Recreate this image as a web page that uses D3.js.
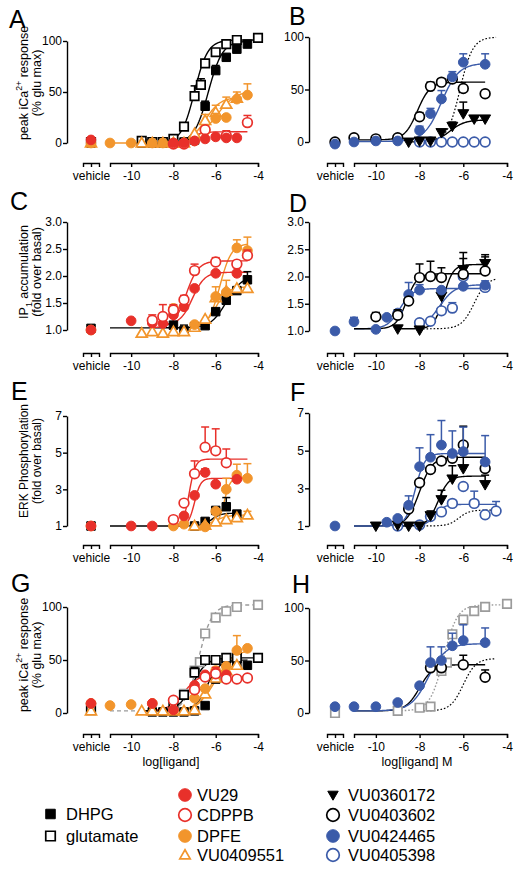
<!DOCTYPE html>
<html><head><meta charset="utf-8">
<script src="https://cdn.jsdelivr.net/npm/d3@7"></script>
<style>
html,body{margin:0;padding:0;background:#fff;}
svg{display:block;font-family:Arial,"Liberation Sans",Helvetica,sans-serif;}
</style></head>
<body>
<svg id="chart" width="521" height="870"></svg>
<script>
const V = "veh";
// ---------- series names ----------
const seriesLeftLegend1 = ["DHPG", "glutamate"];
const seriesLegend2 = ["VU29", "CDPPB", "DPFE", "VU0409551"];
const seriesLegend3 = ["VU0360172", "VU0403602", "VU0424465", "VU0405398"];
const xTickValues = [-10, -8, -6, -4];

// ---------- data: [log dose or vehicle, response, upper SEM] ----------
// Panel A  (peak iCa2+ response, % glu max)
const A_DHPG = [[V,0],[-9.5,0],[-9,0],[-8.5,0],[-8,0],[-7.5,1],[-7,3],[-6.5,36,5],[-6,71,5],[-5.5,84],[-5,92],[-4.5,97]];
const A_glu = [[V,1],[-9.5,2],[-9,1],[-8.5,1],[-8,4],[-7.5,16],[-7,46,10],[-6.7,57,6],[-6.5,78,3],[-6,89],[-5.5,97],[-5,101],[-4,103]];
const A_DPFE = [[V,0],[-11,0],[-10,0],[-9,0],[-8.5,0],[-8,0],[-7.5,0],[-7,2],[-6.5,12],[-6,24,5],[-5.5,25],[-5,43,7],[-4.5,47,11]];
const A_VU0409551 = [[V,0],[-9.5,0],[-9,0],[-8.5,0],[-8,0],[-7.5,0],[-7,9],[-6.5,22,6],[-6,30,7],[-5.5,38,7],[-5,44]];
const A_VU29 = [[V,3],[-8,0],[-7.5,0],[-7,2],[-6.5,4],[-6,6],[-5.5,5],[-5,5]];
const A_CDPPB = [[-8,-1],[-7.5,-1],[-6.5,13],[-5.5,7,5],[-4.5,20,7]];
// Panel B
const B_VU0403602 = [[V,0],[-11,4],[-10,3],[-9,4],[-8,24,4],[-7.5,53,4],[-7,57,3],[-6.5,60],[-6,51],[-5,46,3]];
const B_VU0424465 = [[V,-2],[-11,0],[-10,1],[-9,1],[-8,11,4],[-7.5,27,5],[-7,41,8],[-6.5,62,5],[-6,76,8],[-5,74,10]];
const B_VU0360172 = [[-8.5,0],[-8,1],[-7.5,1],[-7,9],[-6.5,15,4],[-6,27,11],[-5.5,22,3],[-5,22,3]];
const B_VU0405398 = [[-8,0],[-7.5,0],[-7,0],[-6.5,0],[-6,0],[-5.5,0],[-5,0]];
// Panel C  (IP1 accumulation, fold over basal)
const C_DHPG = [[V,1.03],[-8,1.09],[-7.5,0.99,0.1],[-7,1.06],[-6.5,1.08],[-6,1.34],[-5.5,1.55],[-5,1.73],[-4.5,1.93,0.15]];
const C_DPFE = [[V,1.0],[-8,1.4],[-7,1.1],[-6,1.62,0.18],[-5.5,1.7],[-5,2.52,0.15],[-4.5,2.47,0.25]];
const C_VU0409551 = [[-9.5,0.94],[-9,0.97],[-8.5,0.94],[-8,0.97],[-7.5,0.97],[-7,1.05],[-6.5,1.2],[-6,1.6],[-5.5,1.72,0.2],[-5,1.77],[-4.5,1.77]];
const C_VU29 = [[V,1.0],[-10,1.17],[-9,1.13,0.1],[-8.5,1.12],[-8,1.28],[-7.5,1.43],[-7,1.77],[-6,2.05],[-5,2.05]];
const C_CDPPB = [[-9,1.18,0.1],[-8.5,1.25,0.22],[-8,1.37,0.1],[-7.5,1.56,0.08],[-7,2.1,0.12],[-6,2.26,0.08],[-5,2.22],[-4.5,2.38,0.1]];
// Panel D
const D_VU0424465 = [[V,1.0],[-11,1.17,0.08],[-10,1.03],[-9.5,1.25],[-9,1.33,0.05],[-8.5,1.67,0.22],[-8,1.75,0.1],[-7,1.75],[-6,1.82],[-5,1.84]];
const D_VU0403602 = [[-10,1.26,0.08],[-9,1.29,0.1],[-8.5,1.55],[-8,1.98,0.25],[-7.5,2.0,0.28],[-7,1.98,0.18],[-6,2.04,0.4],[-5,2.1,0.3]];
const D_VU0360172 = [[-9,1.04],[-8,1.02],[-7,1.64],[-6,2.13,0.2],[-5,2.24,0.12]];
const D_VU0405398 = [[-8,1.15],[-7.5,1.18],[-7,1.37],[-6.5,1.42,0.1],[-6,2.0,0.1],[-5,1.8,0.12]];
// Panel E  (ERK phosphorylation, fold over basal)
const E_DHPG = [[V,1],[-7,1.0],[-6.5,1.25],[-6,1.85],[-5.5,2.05,0.5],[-5,1.65]];
const E_DPFE = [[V,1],[-8,1],[-7.5,1.1],[-6.5,0.95],[-6,1.8],[-5.5,3.0,0.6],[-5,3.77,0.6],[-4.5,3.6,0.8]];
const E_VU0409551 = [[-7,1],[-6.5,1.05],[-6,1.22],[-5.5,1.35],[-5,1.45],[-4.5,1.6,0.2]];
const E_VU29 = [[V,1],[-10,1],[-9,1],[-7.5,1.55],[-7,2.67],[-6.5,3.92,0.2],[-6,3.28],[-5,3.55]];
const E_CDPPB = [[-8,1.35],[-7.5,2.25],[-7,3.85,0.7],[-6.5,5.3,1.1],[-6,5.1,1.2],[-5.5,4.45,0.75]];
// Panel F
const F_VU0424465 = [[V,1],[-9.5,1.2],[-9,1.4],[-8.5,2.1,0.5],[-8,4.15,1.0],[-7.5,4.65,1.2],[-7,5.3,1.3],[-6.5,4.85,1.2],[-6,4.95,1.3],[-5,4.4,1.4]];
const F_VU0403602 = [[-8.5,1.9],[-8,3.3],[-7.5,4.0],[-7,4.45],[-6.5,4.6],[-6,5.3,1.0],[-5,4.05]];
const F_VU0360172 = [[-10,1],[-9,1.05],[-8.5,1],[-8,1],[-7.5,1.55,0.25],[-7,2.4,0.5],[-6.5,3.5,0.7],[-6,4.05,0.8],[-5,3.2,0.5]];
const F_VU0405398 = [[-9,1],[-8,1.05],[-7.5,1.5],[-7,1.75],[-6.5,2.2],[-6,3.1],[-5.5,2.2,0.65],[-5,1.6],[-4.5,1.8,0.5]];
// Panel G  (peak iCa2+ response, % glu max)
const G_gluGray = [[V,2.5],[-7.5,18],[-7,40],[-6.75,48],[-6.5,75],[-6,90],[-5.5,96],[-5,100],[-4,102]];
const G_glu = [[V,5],[-8,9],[-7.5,17],[-7,38,5],[-6.5,50,3],[-6,50],[-5.5,52,3],[-5,52],[-4,52]];
const G_DHPG = [[V,3],[-9,1],[-8.5,1],[-8,1],[-7.5,1],[-7,2],[-6.5,7],[-6,32],[-5.5,48],[-5,46,5],[-4.5,45]];
const G_DPFE = [[V,9],[-11,7],[-10,8],[-9,9],[-8,3],[-7,14],[-6.5,23],[-6,40],[-5.5,44],[-5,59,14],[-4.5,61]];
const G_VU0409551 = [[V,2],[-9.5,2],[-9,2],[-8.5,2],[-8,2],[-7.5,2],[-7,3],[-6.5,18],[-6,33],[-5.5,40],[-5,45]];
const G_VU29 = [[V,9],[-9,9],[-8,3],[-7,26],[-6.5,36],[-6,38],[-5.5,36]];
const G_CDPPB = [[-8,12],[-7,22],[-6.5,34],[-6,37,6],[-5.5,32,5],[-5,32],[-4.5,33]];
// Panel H
const H_gluGray = [[V,0],[-9,2],[-8,5],[-7.5,6],[-7,40],[-6.75,48],[-6.5,75],[-6,89],[-5.5,97],[-5,101],[-4,104]];
const H_VU0424465 = [[V,6],[-11,6],[-10,6],[-9,10],[-8,26],[-7.5,48,15],[-7,50,13],[-6.5,64,12],[-6,69,15],[-5,67,14]];
const H_VU0403602 = [[-7.5,43],[-7,43],[-6,46,9],[-5,34,7]];

// ---------- fitted curve parameters: [series, bottom, top, logEC50, hill, xFrom, xTo] ----------
const A_fits = [["glu",0,101,-7.0,1.4,-9.5,-4],["DHPG",0,100,-6.35,1.3,-9.5,-4.5],["DPFE",0,52,-6.0,0.9,-11,-4.5],["VU0409551",0,45,-6.5,1.2,-9.5,-5],["VU29",0,11,-7.2,1.5,-8,-4.5]];
const B_fits = [["ref",0,100,-6.15,1.5,-7.5,-4.5],["VU0403602",2,57,-8.1,1.5,-11,-5],["VU0424465",0.5,75,-7.0,1.1,-11,-5],["VU0360172",0,21,-6.6,1.3,-8.5,-5],["VU0405398",0,0.5,-7,1,-8,-5]];
const C_fits = [["DHPG",1.04,2.0,-5.5,1.2,-11,-4.5],["VU0409551",1.04,1.8,-6.0,1.5,-7,-4.5],["DPFE",1.04,2.6,-5.8,1.6,-6.8,-4.5],["VU29",1.1,2.07,-7.1,1.5,-8.5,-4.5],["CDPPB",1.04,2.28,-7.4,1.5,-9,-4.5]];
const D_fits = [["ref",1.04,1.98,-5.5,1.5,-8,-4.5],["VU0424465",1.04,1.78,-8.9,1.5,-11,-5],["VU0403602",1.04,2.05,-8.6,1.8,-11,-5],["VU0360172",1.04,2.22,-6.9,2,-9,-5],["VU0405398",1.04,1.85,-7.1,1.2,-8,-5]];
const E_fits = [["DHPG",1,1.7,-6.2,2,-11,-5],["VU0409551",1,1.6,-6.0,1.5,-7,-4.5],["DPFE",1,3.65,-5.6,3,-6.5,-4.5],["VU29",1,3.6,-7.0,3,-8,-4.5],["CDPPB",1,4.65,-7.25,3,-8,-4.5]];
const F_fits = [["ref",1,1.85,-6.2,1.8,-8,-4.5],["VU0405398",1,2.15,-7.3,2,-9,-4.5],["VU0360172",1,3.65,-7.15,1.8,-9,-5],["VU0403602",1,4.65,-8.0,1.5,-11,-5],["VU0424465",1,4.85,-8.2,2,-11,-5]];
const G_fits = [["gluGray",2,102,-6.8,1.4,-11,-4],["glu",2,52,-7.1,1.3,-9.5,-4],["DHPG",2,50,-6.4,1.5,-9.5,-4.5],["DPFE",2,60,-6.0,1.0,-8,-4.5],["VU0409551",2,45,-6.3,1.4,-8,-5],["VU29",2,37,-7.5,1.2,-9,-5.5]];
const H_fits = [["ref",2,52,-6.0,1.5,-8,-4.5],["gluGray",2,103,-6.9,1.4,-9,-4],["VU0403602",2,46,-8.0,1.4,-11,-5],["VU0424465",2,66,-7.6,1.1,-11,-5]];

// ---------- styles ----------
const RED = "#e8302a", ORANGE = "#f2952c", BLUE = "#3b5ba9", GRAY = "#9b9b9b";
const STYLE = {
  DHPG:{shape:"square",fill:"#000",stroke:"#000"},
  glu:{shape:"square",fill:"#fff",stroke:"#000"},
  glutamate:{shape:"square",fill:"#fff",stroke:"#000"},
  gluGray:{shape:"square",fill:"#fff",stroke:GRAY},
  VU29:{shape:"circle",fill:RED,stroke:RED},
  CDPPB:{shape:"circle",fill:"#fff",stroke:RED},
  DPFE:{shape:"circle",fill:ORANGE,stroke:ORANGE},
  VU0409551:{shape:"triangle",fill:"#fff",stroke:ORANGE},
  VU0360172:{shape:"triangleDown",fill:"#000",stroke:"#000"},
  VU0403602:{shape:"circle",fill:"#fff",stroke:"#000"},
  VU0424465:{shape:"circle",fill:BLUE,stroke:BLUE},
  VU0405398:{shape:"circle",fill:"#fff",stroke:BLUE},
  ref:{stroke:"#000",dash:"1.6,1.9"}
};

const svg = d3.select("#chart");
const FONT_TICK = 12, FONT_TITLE = 12.5;

const sides = {
  left:{vehBracket:[83,99], main:[110,258], yAxisX:67},
  right:{vehBracket:[327,343], main:[354,507], yAxisX:309}
};

const panels = [
  {id:"A", side:"left", yDomain:[0,100], yTicks:[0,50,100], fmt:d3.format("d"), yRange:[143,41], axisY:163, letter:[9,28],
   data:[["DHPG",A_DHPG],["glu",A_glu],["VU0409551",A_VU0409551],["DPFE",A_DPFE],["CDPPB",A_CDPPB],["VU29",A_VU29]], fits:A_fits},
  {id:"B", side:"right", yDomain:[0,100], yTicks:[0,50,100], fmt:d3.format("d"), yRange:[142,37], axisY:163, letter:[289,25],
   data:[["VU0405398",B_VU0405398],["VU0360172",B_VU0360172],["VU0403602",B_VU0403602],["VU0424465",B_VU0424465]], fits:B_fits},
  {id:"C", side:"left", yDomain:[1,3], yTicks:[1,1.5,2,2.5,3], fmt:d3.format(".1f"), yRange:[330,222], axisY:353, letter:[10,210],
   data:[["DHPG",C_DHPG],["VU0409551",C_VU0409551],["DPFE",C_DPFE],["VU29",C_VU29],["CDPPB",C_CDPPB]], fits:C_fits},
  {id:"D", side:"right", yDomain:[1,3], yTicks:[1,1.5,2,2.5,3], fmt:d3.format(".1f"), yRange:[331,222], axisY:353, letter:[289,212],
   data:[["VU0405398",D_VU0405398],["VU0360172",D_VU0360172],["VU0424465",D_VU0424465],["VU0403602",D_VU0403602]], fits:D_fits},
  {id:"E", side:"left", yDomain:[1,7], yTicks:[1,3,5,7], fmt:d3.format("d"), yRange:[526,416], axisY:545, letter:[11,400],
   data:[["DHPG",E_DHPG],["VU0409551",E_VU0409551],["DPFE",E_DPFE],["VU29",E_VU29],["CDPPB",E_CDPPB]], fits:E_fits},
  {id:"F", side:"right", yDomain:[1,7], yTicks:[1,3,5,7], fmt:d3.format("d"), yRange:[526,413], axisY:545, letter:[290,401],
   data:[["VU0405398",F_VU0405398],["VU0360172",F_VU0360172],["VU0403602",F_VU0403602],["VU0424465",F_VU0424465]], fits:F_fits},
  {id:"G", side:"left", yDomain:[0,100], yTicks:[0,50,100], fmt:d3.format("d"), yRange:[713,607], axisY:734, letter:[11,592],
   data:[["gluGray",G_gluGray],["DHPG",G_DHPG],["glu",G_glu],["VU0409551",G_VU0409551],["DPFE",G_DPFE],["VU29",G_VU29],["CDPPB",G_CDPPB]], fits:G_fits, grayDash:"4,3"},
  {id:"H", side:"right", yDomain:[0,100], yTicks:[0,50,100], fmt:d3.format("d"), yRange:[713,608], axisY:734, letter:[292,593],
   data:[["gluGray",H_gluGray],["VU0403602",H_VU0403602],["VU0424465",H_VU0424465]], fits:H_fits, grayDash:"1.6,1.9"}
];

const yTitles = [
  {cy:83, fs:12.5, lines:[["peak iCa",["2+","sup"]," response"],["(% glu max)"]]},
  {cy:272, fs:12.5, lines:[["IP",["1","sub"]," accumulation"],["(fold over basal)"]]},
  {cy:461, fs:12, lines:[["ERK Phosphorylation"],["(fold over basal)"]]},
  {cy:655, fs:12.5, lines:[["peak iCa",["2+","sup"]," response"],["(% glu max)"]]}
];

function markerPath(shape, scale=1){
  if(shape==="square") return d3.symbol(d3.symbolSquare, 72*scale*scale)();
  if(shape==="circle") return d3.symbol(d3.symbolCircle, 74*scale*scale)();
  if(shape==="triangle") return d3.symbol(d3.symbolTriangle, 52*scale*scale)();
  if(shape==="triangleDown") return d3.symbol(d3.symbolTriangle, 52*scale*scale)();
}
function drawMarker(g, name, x, y, scale=1){
  const s = STYLE[name];
  const p = g.append("path").attr("d", markerPath(s.shape, scale))
    .attr("fill", s.fill).attr("stroke", s.stroke)
    .attr("stroke-width", s.fill === "#fff" ? 1.7 : 1);
  const rot = s.shape==="triangleDown" ? " rotate(180)" : "";
  const dy = s.shape==="triangle" ? 0.8 : (s.shape==="triangleDown" ? -0.8 : 0);
  p.attr("transform", `translate(${x},${y+dy})${rot}`);
}

function hill(b,t,ec,h,x){ return b + (t-b)/(1+Math.pow(10,(ec-x)*h)); }

panels.forEach(P => {
  const sd = sides[P.side];
  const x = d3.scaleLinear().domain([-11,-4]).range(sd.main);
  const xv = d3.scalePoint().domain(["vehicle"]).range(sd.vehBracket).padding(0.5);
  const y = d3.scaleLinear().domain(P.yDomain).range(P.yRange);
  const g = svg.append("g");
  const px = d => d[0]===V ? xv("vehicle") : x(d[0]);

  // y axis
  const ya = g.append("g").attr("transform",`translate(${sd.yAxisX},0)`)
    .call(d3.axisLeft(y).tickValues(P.yTicks).tickFormat(P.fmt).tickSize(4).tickSizeOuter(0));
  // x axes
  const xa = g.append("g").attr("transform",`translate(0,${P.axisY})`)
    .call(d3.axisBottom(x).tickValues(xTickValues).tickSize(4).tickSizeOuter(4));
  const xva = g.append("g").attr("transform",`translate(0,${P.axisY})`)
    .call(d3.axisBottom(xv).tickSize(4).tickSizeOuter(4));
  [ya,xa,xva].forEach(a=>{
    a.selectAll("path,line").attr("stroke","#000").attr("stroke-width",1.4);
    a.selectAll("text").attr("font-size",FONT_TICK).attr("font-family","Arial, 'Liberation Sans', sans-serif").attr("fill","#000");
  });
  xa.selectAll("text").text(d=>"-"+Math.abs(d)).attr("y",8);
  xva.selectAll("text").attr("y",8);
  ya.selectAll("text").attr("x",-5);

  // panel letter
  g.append("text").attr("x",P.letter[0]).attr("y",P.letter[1]).attr("font-size",25).text(P.id);

  // fitted curves
  const line = d3.line().x(d=>x(d[0])).y(d=>y(d[1]));
  P.fits.forEach(f => {
    const [name,b,t,ec,h,x0,x1] = f;
    const pts = d3.range(0,121).map(i => { const xx = x0 + (x1-x0)*i/120; return [xx, hill(b,t,ec,h,xx)]; });
    let stroke, dash = null, width = 1.4;
    if(name==="ref"){ stroke="#000"; dash=STYLE.ref.dash; width=1.2; }
    else if(name==="gluGray"){ stroke=GRAY; dash=P.grayDash; width=1.4; }
    else stroke = STYLE[name].stroke;
    g.append("path").attr("d", line(pts)).attr("fill","none").attr("stroke",stroke)
      .attr("stroke-width",width).attr("stroke-dasharray",dash);
  });

  // points and error bars
  P.data.forEach(([name, arr]) => {
    const col = STYLE[name].stroke;
    arr.forEach(d => {
      if(d[2]){
        const cx = px(d), y0 = y(d[1]), y1 = y(d[1]+d[2]);
        g.append("line").attr("x1",cx).attr("x2",cx).attr("y1",y0).attr("y2",y1).attr("stroke",col).attr("stroke-width",1.5);
        g.append("line").attr("x1",cx-4).attr("x2",cx+4).attr("y1",y1).attr("y2",y1).attr("stroke",col).attr("stroke-width",1.5);
      }
    });
    arr.forEach(d => drawMarker(g, name, px(d), y(d[1])));
  });
});

// y titles
yTitles.forEach(T => {
  [24, 37].forEach((lx, i) => {
    const t = svg.append("text").attr("transform",`translate(${lx},${T.cy}) rotate(-90)`)
      .attr("text-anchor","middle").attr("dominant-baseline","central").attr("font-size",T.fs);
    T.lines[i].forEach(part => {
      if(typeof part === "string") t.append("tspan").text(part);
      else t.append("tspan").attr("baseline-shift", part[1]==="sup" ? "super" : "sub").attr("font-size",T.fs*0.7).text(part[0]);
    });
  });
});

// x titles
svg.append("text").attr("x",171).attr("y",766).attr("text-anchor","middle").attr("font-size",FONT_TITLE).text("log[ligand]");
svg.append("text").attr("x",417).attr("y",766).attr("text-anchor","middle").attr("font-size",FONT_TITLE).text("log[ligand] M");

// legend
const LEG_FONT = 16.5;
function legendCol(names, mx, tx, ys){
  names.forEach((n,i)=>{
    const g = svg.append("g");
    const sh = STYLE[n].shape;
    const sc = sh==="circle" ? 1.3 : (sh==="square" ? 1.12 : 0.95);
    drawMarker(g, n, mx, ys[i], sc);
    svg.append("text").attr("x",tx).attr("y",ys[i]).attr("dominant-baseline","central").attr("font-size",LEG_FONT).text(n);
  });
}
legendCol(seriesLeftLegend1, 50.5, 66, [814, 836]);
legendCol(seriesLegend2, 185, 197, [795, 815, 836, 855]);
legendCol(seriesLegend3, 333, 348, [795, 815, 836, 855]);
</script>
</body></html>
